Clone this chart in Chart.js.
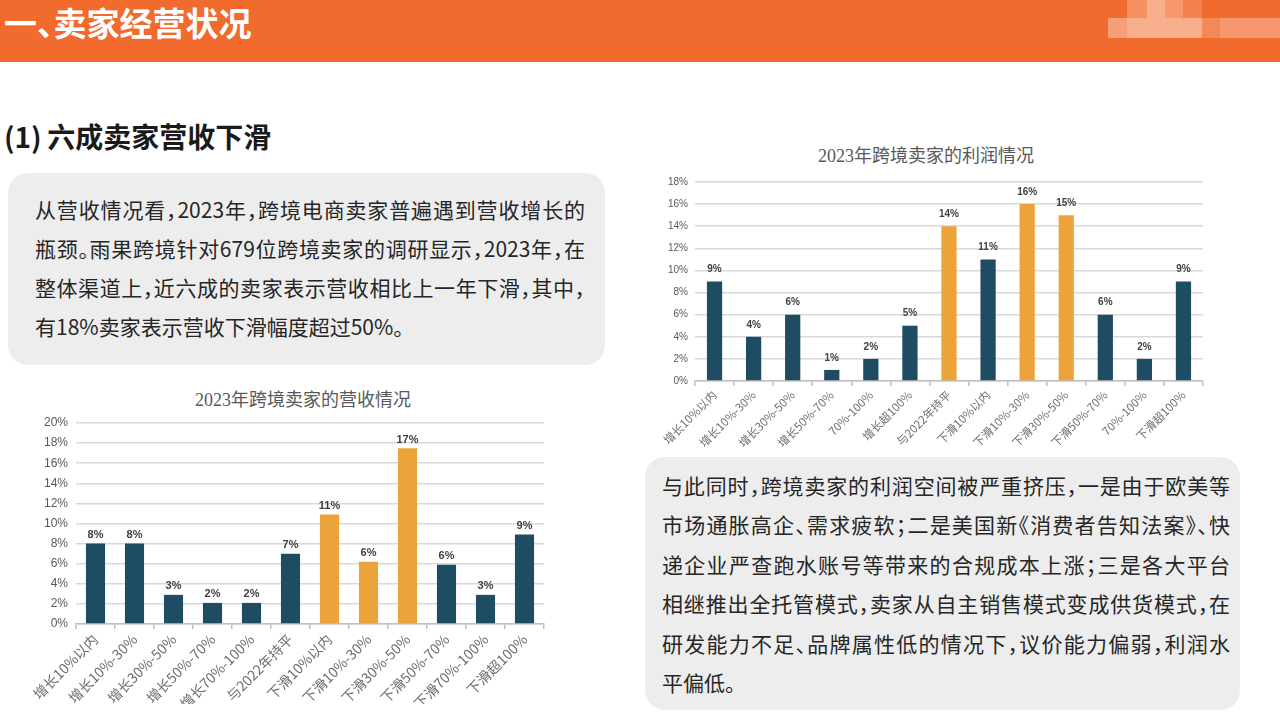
<!DOCTYPE html>
<html><head><meta charset="utf-8">
<script src="https://cdn.jsdelivr.net/npm/chart.js@4.4.1/dist/chart.umd.min.js"></script>
<style>
body{margin:0;width:1280px;height:722px;overflow:hidden;background:#fff;font-family:"Noto Sans CJK SC","Noto Sans",sans-serif;position:relative;color:#262626}
.hdr{position:absolute;left:0;top:0;width:1280px;height:62px;background:#F26B2E;overflow:hidden}
.hdr h1{position:absolute;left:4px;top:0;margin:0;font-size:33px;font-weight:700;color:#fff;line-height:44px;font-feature-settings:"halt"}
.px{position:absolute;background:#fff}
h2{position:absolute;left:4px;top:115px;margin:0;font-size:28px;font-weight:700;line-height:42px;color:#1a1a1a}
.box{position:absolute;background:#EDEDED;border-radius:20px}
.box .ln{font-size:21px;line-height:39px;white-space:nowrap;text-align:justify;text-align-last:justify;color:#262626;font-feature-settings:"halt"}
.box .ln.last{text-align-last:left}
.ctitle{position:absolute;font-family:"Liberation Serif","Noto Sans CJK SC",serif;font-size:18px;color:#595959;white-space:nowrap;transform:translate(-50%,-50%);line-height:24px}
.cwrap{position:absolute}
</style></head>
<body>
<div class="hdr">
  <div class="px" style="left:1127px;top:0;width:20px;height:18px;opacity:.25"></div>
  <div class="px" style="left:1147px;top:0;width:18px;height:18px;opacity:.45"></div>
  <div class="px" style="left:1165px;top:0;width:18px;height:18px;opacity:.3"></div>
  <div class="px" style="left:1183px;top:0;width:19px;height:18px;opacity:.15"></div>
  <div class="px" style="left:1108px;top:18px;width:19px;height:20px;opacity:.35"></div>
  <div class="px" style="left:1127px;top:18px;width:75px;height:20px;opacity:.45"></div>
  <div class="px" style="left:1202px;top:18px;width:18px;height:20px;opacity:.2"></div>
  <div class="px" style="left:1220px;top:18px;width:60px;height:20px;opacity:.3"></div>
  <h1>一、卖家经营状况</h1>
</div>
<h2>(1)&thinsp;六成卖家营收下滑</h2>
<div class="box" style="left:8px;top:173px;width:597px;height:192px">
  <div style="position:absolute;left:27px;top:17px;width:550px">
    <div class="ln">从营收情况看，2023年，跨境电商卖家普遍遇到营收增长的</div>
    <div class="ln">瓶颈。雨果跨境针对679位跨境卖家的调研显示，2023年，在</div>
    <div class="ln">整体渠道上，近六成的卖家表示营收相比上一年下滑，其中，</div>
    <div class="ln last">有18%卖家表示营收下滑幅度超过50%。</div>
  </div>
</div>

<div class="ctitle" style="left:303px;top:400px">2023年跨境卖家的营收情况</div>
<div class="cwrap" style="left:20px;top:385px;width:566px;height:335px"><canvas id="c1"></canvas></div>
<div class="ctitle" style="left:926px;top:156px">2023年跨境卖家的利润情况</div>
<div class="cwrap" style="left:640px;top:145px;width:600px;height:310px"><canvas id="c2"></canvas></div>

<div class="box" style="left:645px;top:457px;width:595px;height:253px">
  <div style="position:absolute;left:17px;top:9px;width:568px">
    <div class="ln" style="line-height:39.4px">与此同时，跨境卖家的利润空间被严重挤压，一是由于欧美等</div>
    <div class="ln" style="line-height:39.4px">市场通胀高企、需求疲软；二是美国新《消费者告知法案》、快</div>
    <div class="ln" style="line-height:39.4px">递企业严查跑水账号等带来的合规成本上涨；三是各大平台</div>
    <div class="ln" style="line-height:39.4px">相继推出全托管模式，卖家从自主销售模式变成供货模式，在</div>
    <div class="ln" style="line-height:39.4px">研发能力不足、品牌属性低的情况下，议价能力偏弱，利润水</div>
    <div class="ln last" style="line-height:39.4px">平偏低。</div>
  </div>
</div>

<script>
// ---- Revenue chart data ----
const revCategories = ['增长10%以内','增长10%-30%','增长30%-50%','增长50%-70%','增长70%-100%','与2022年持平','下滑10%以内','下滑10%-30%','下滑30%-50%','下滑50%-70%','下滑70%-100%','下滑超100%'];
const revValues = [8.0, 8.0, 2.9, 2.1, 2.1, 7.0, 10.9, 6.2, 17.5, 5.9, 2.9, 8.9];
const revLabels = ['8%','8%','3%','2%','2%','7%','11%','6%','17%','6%','3%','9%'];
const revHighlight = [false,false,false,false,false,false,true,true,true,false,false,false];
const revTicks = [0,2,4,6,8,10,12,14,16,18,20];

// ---- Profit chart data ----
const profCategories = ['增长10%以内','增长10%-30%','增长30%-50%','增长50%-70%','70%-100%','增长超100%','与2022年持平','下滑10%以内','下滑10%-30%','下滑30%-50%','下滑50%-70%','70%-100%','下滑超100%'];
const profValues = [9, 4, 6, 1, 2, 5, 14, 11, 16, 15, 6, 2, 9];
const profLabels = ['9%','4%','6%','1%','2%','5%','14%','11%','16%','15%','6%','2%','9%'];
const profHighlight = [false,false,false,false,false,false,true,false,true,true,false,false,false];
const profTicks = [0,2,4,6,8,10,12,14,16,18];

const TEAL = '#1E4C62', GOLD = '#ECA43A';

const valueLabels = {
  id:'valueLabels',
  afterDatasetsDraw(chart, args, opts){
    const ctx = chart.ctx;
    const meta = chart.getDatasetMeta(0);
    ctx.save();
    ctx.font = opts.font;
    ctx.fillStyle = opts.color;
    ctx.textAlign = 'center';
    ctx.textBaseline = 'bottom';
    meta.data.forEach((bar,i)=>{ ctx.fillText(opts.labels[i], bar.x, bar.y - opts.offset); });
    ctx.restore();
  }
};

function makeChart(id, cats, vals, labels, hi, ticks, cfg){
  return new Chart(document.getElementById(id), {
    type:'bar',
    data:{labels:cats, datasets:[{data:vals, backgroundColor:hi.map(h=>h?GOLD:TEAL), barPercentage:cfg.barPct, categoryPercentage:1}]},
    options:{
      responsive:true, maintainAspectRatio:false, animation:false,
      layout:{padding:cfg.padding},
      plugins:{legend:{display:false}, tooltip:{enabled:false},
        valueLabels:{labels:labels, font:cfg.labelFont, color:'#404040', offset:cfg.labelOffset}},
      scales:{
        x:{
          grid:{offset:true, drawOnChartArea:false, drawTicks:true, tickLength:5, color:'#BFBFBF', lineWidth:1.5},
          border:{color:'#BFBFBF', width:1.5},
          ticks:{autoSkip:false, minRotation:45, maxRotation:45, padding:2, color:'#6E6E6E',
            font:{family:'"Noto Sans CJK SC", sans-serif', size:cfg.catSize}},
          afterFit(s){ s.height = cfg.xHeight; }
        },
        y:{
          min:0, max:ticks[ticks.length-1],
          afterBuildTicks(s){ s.ticks = ticks.map(v=>({value:v})); },
          grid:{color:'#D9D9D9', lineWidth:1.5, drawTicks:false},
          border:{display:false},
          ticks:{padding:cfg.yPad, color:'#595959', font:{family:'"Liberation Sans", sans-serif', size:cfg.ySize},
            callback:v=>v+'%'},
          afterFit(s){ s.width = cfg.yWidth; }
        }
      }
    },
    plugins:[valueLabels]
  });
}

makeChart('c1', revCategories, revValues, revLabels, revHighlight, revTicks, {
  barPct:0.49, padding:{top:38,right:42,bottom:16,left:0}, xHeight:80, yWidth:56, yPad:8,
  catSize:14, ySize:12, labelFont:'bold 11px "Liberation Sans", sans-serif', labelOffset:3
});
makeChart('c2', profCategories, profValues, profLabels, profHighlight, profTicks, {
  barPct:0.39, padding:{top:37,right:37,bottom:4,left:0}, xHeight:70, yWidth:55, yPad:7,
  catSize:11.5, ySize:10, labelFont:'bold 10px "Liberation Sans", sans-serif', labelOffset:7
});
</script>
</body></html>
